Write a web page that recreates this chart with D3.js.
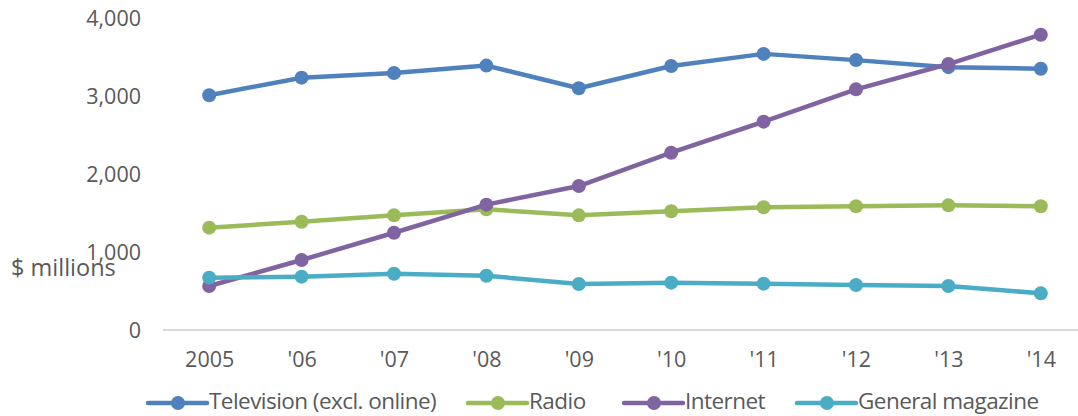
<!DOCTYPE html>
<html lang="en">
<head>
  <meta charset="utf-8" />
  <title>Ad spending by medium</title>
  <style>
    body { margin: 0; background: #fff; }
    .tick text { font-family: "Open Sans", sans-serif; font-size: 21.5px; fill: #595959; }
    .legend text { font-family: "Open Sans", sans-serif; font-size: 22.5px; fill: #595959; letter-spacing: -0.55px; }
  </style>
  <script src="https://d3js.org/d3.v7.min.js"></script>
</head>
<body>
  <svg width="1078" height="416"></svg>
  <script>
    // data ($ millions)
    const years = ["2005", "'06", "'07", "'08", "'09", "'10", "'11", "'12", "'13", "'14"];
    const television = [3010, 3235, 3295, 3390, 3100, 3385, 3540, 3460, 3370, 3350];
    const radio = [1312, 1388, 1470, 1547, 1470, 1522, 1573, 1586, 1598, 1586];
    const internet = [564, 897, 1247, 1607, 1846, 2273, 2671, 3085, 3410, 3786];
    const magazine = [671, 684, 722, 696, 590, 607, 594, 577, 564, 470];
    const yTicks = [0, 1000, 2000, 3000, 4000];

    const series = [
      { name: "Television (excl. online)", values: television, color: "#4f81bd" },
      { name: "Radio", values: radio, color: "#9bbb59" },
      { name: "Internet", values: internet, color: "#8064a2" },
      { name: "General magazine", values: magazine, color: "#4bacc6" }
    ];

    const svg = d3.select("svg");

    const x = d3.scalePoint().domain(years).range([163, 1087]).padding(0.5);
    const y = d3.scaleLinear().domain([0, 4000]).range([330, 18]);

    // baseline
    svg.append("line")
      .attr("x1", 163).attr("x2", 1078)
      .attr("y1", y(0)).attr("y2", y(0))
      .attr("stroke", "#d9d9d9").attr("stroke-width", 2);

    // y axis
    const yAxis = svg.append("g")
      .attr("transform", "translate(141,0)")
      .call(d3.axisLeft(y).tickValues(yTicks).tickSize(0).tickPadding(0).tickFormat(d3.format(",")));
    yAxis.select(".domain").remove();
    yAxis.selectAll(".tick text").attr("dy", "0.35em");

    // x axis
    const xAxis = svg.append("g")
      .attr("transform", "translate(0," + y(0) + ")")
      .call(d3.axisBottom(x).tickSize(0).tickPadding(22));
    xAxis.select(".domain").remove();

    svg.append("text")
      .attr("x", 11).attr("y", 276)
      .attr("font-family", "Open Sans, sans-serif")
      .attr("font-size", 23.5)
      .attr("fill", "#595959")
      .text("$ millions");

    const line = d3.line()
      .x((d, i) => x(years[i]))
      .y(d => y(d));

    const groups = svg.append("g")
      .selectAll("g")
      .data(series)
      .join("g");

    groups.append("path")
      .attr("d", d => line(d.values))
      .attr("fill", "none")
      .attr("stroke", d => d.color)
      .attr("stroke-width", 4.5)
      .attr("stroke-linejoin", "round");

    groups.each(function(s) {
      d3.select(this).selectAll("circle")
        .data(s.values)
        .join("circle")
        .attr("cx", (d, i) => x(years[i]))
        .attr("cy", d => y(d))
        .attr("r", 7)
        .attr("fill", s.color);
    });

    // legend
    const legendX = [148, 468, 624, 797];
    const legend = svg.append("g")
      .attr("class", "legend")
      .selectAll("g")
      .data(series)
      .join("g")
      .attr("transform", (d, i) => "translate(" + legendX[i] + ",403)");

    legend.append("line")
      .attr("x1", 0).attr("x2", 59)
      .attr("stroke", d => d.color)
      .attr("stroke-width", 4.5)
      .attr("stroke-linecap", "round");
    legend.append("circle")
      .attr("cx", 30).attr("r", 7)
      .attr("fill", d => d.color);
    legend.append("text")
      .attr("x", 61).attr("dy", "0.28em")
      .text(d => d.name);
  </script>
</body>
</html>
